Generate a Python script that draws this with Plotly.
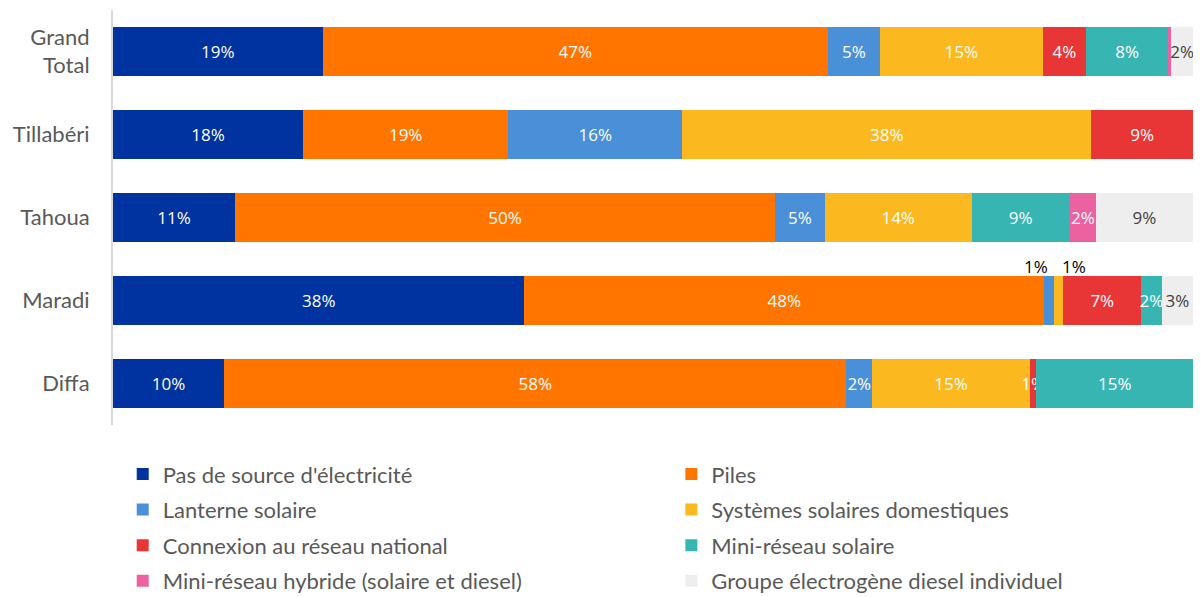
import plotly.graph_objects as go

# Regions, top to bottom
regions = ["Grand<br>Total", "Tillabéri", "Tahoua", "Maradi", "Diffa"]

# Share of households (%) by main source of lighting/electricity
pas_de_source = [19.4, 17.6, 11.3, 38.1, 10.3]
piles = [46.8, 19.0, 50.0, 48.1, 57.6]
lanterne = [4.8, 16.1, 4.6, 0.9, 2.4]
systemes = [15.1, 37.9, 13.6, 0.9, 14.6]
connexion = [4.0, 9.4, 0.0, 7.2, 0.6]
mini_solaire = [7.6, 0.0, 9.1, 1.9, 14.5]
mini_hybride = [0.3, 0.0, 2.4, 0.0, 0.0]
groupe = [2.0, 0.0, 9.0, 2.9, 0.0]

series = [
    ("Pas de source d'électricité", pas_de_source, "#0033A0", "white", "legend"),
    ("Piles", piles, "#FF7500", "white", "legend2"),
    ("Lanterne solaire", lanterne, "#4A90D9", "white", "legend"),
    ("Systèmes solaires domestiques", systemes, "#FBB81F", "white", "legend2"),
    ("Connexion au réseau national", connexion, "#E83535", "white", "legend"),
    ("Mini-réseau solaire", mini_solaire, "#36B5B3", "white", "legend2"),
    ("Mini-réseau hybride (solaire et diesel)", mini_hybride, "#EC619F", "white", "legend"),
    ("Groupe électrogène diesel individuel", groupe, "#EEEEEE", "#404040", "legend2"),
]

# Small Maradi segments whose labels sit above the bar
above_labels = {("Lanterne solaire", "Maradi"): -13, ("Systèmes solaires domestiques", "Maradi"): 15}

fig = go.Figure()
cum = [0.0] * len(regions)
annotations = []
for name, vals, color, tcolor, leg in series:
    templates = []
    for i, v in enumerate(vals):
        key = (name, regions[i])
        if v < 0.5 or key in above_labels:
            templates.append("")
        else:
            templates.append("%{x:.0f}%")
        if key in above_labels and v > 0:
            annotations.append(dict(
                x=cum[i] + v / 2, y=regions[i], xref="x", yref="y",
                text=f"{v:.0f}%", showarrow=False, yshift=34,
                xshift=above_labels[key],
                font=dict(family="Open Sans", size=17, color="black"),
            ))
    fig.add_trace(go.Bar(
        name=name, y=regions, x=vals, orientation="h",
        marker=dict(color=color, line=dict(width=0)),
        texttemplate=templates, textposition="inside", textangle=0,
        insidetextanchor="middle", constraintext="none",
        textfont=dict(family="Open Sans", size=17, color=tcolor),
        legend=leg, legendgroup=name, hoverinfo="skip",
    ))
    cum = [c + v for c, v in zip(cum, vals)]

legend_style = dict(
    orientation="v", font=dict(family="Lato", size=22, color="#595959"),
    tracegroupgap=4, itemwidth=30, bgcolor="rgba(0,0,0,0)",
    yanchor="top", xanchor="left", traceorder="grouped",
)

fig.update_layout(
    width=1201, height=597,
    barmode="stack", bargap=0.41,
    plot_bgcolor="white", paper_bgcolor="white",
    margin=dict(l=113, r=8, t=10, b=172, autoexpand=False),
    showlegend=True,
    legend=dict(x=0.009, y=-0.068, **legend_style),
    legend2=dict(x=0.517, y=-0.068, **legend_style),
    annotations=annotations,
    uniformtext=dict(mode=False),
)
fig.update_xaxes(range=[0, 100], visible=False, fixedrange=True)
fig.update_yaxes(
    autorange="reversed", showline=True, linecolor="#D9D9D9", linewidth=2,
    ticks="", ticklabelstandoff=17, showgrid=False, zeroline=False,
    tickfont=dict(family="Lato", size=22, color="#595959"),
)

fig.write_html("out.html")
